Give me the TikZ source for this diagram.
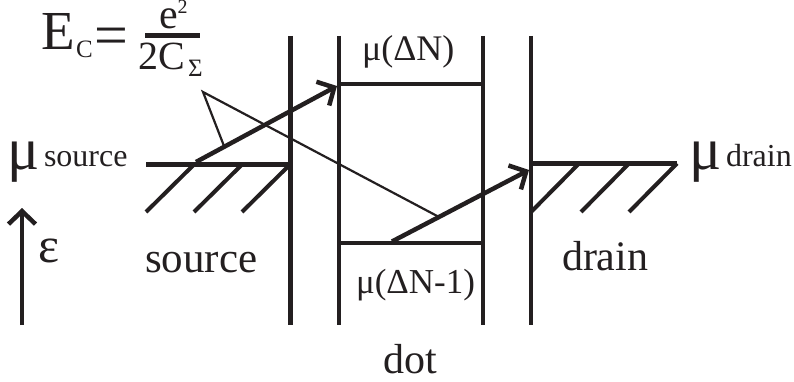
\documentclass[tikz,border=0pt]{standalone}
\usepackage{fontspec}
\setmainfont{Liberation Serif}
\usetikzlibrary{arrows.meta}
\definecolor{ink}{HTML}{231F20}
\newcommand{\fsz}[1]{\fontsize{#1}{#1}\selectfont}
\tikzset{
  x=1pt,y=-1pt,
  heavy/.style={draw=ink,line width=4.5pt},
  hatch/.style={draw=ink,line width=4pt},
  thinline/.style={draw=ink,line width=2.2pt},
  barb/.style={draw=ink,line width=4.5pt,-{Straight Barb[length=13pt,width=27pt,line width=4.5pt]}},
  txt/.style={anchor=base west,inner sep=0pt,outer sep=0pt,text=ink},
}
\begin{document}
\begin{tikzpicture}
\useasboundingbox (0,0) rectangle (794,382);
% walls
\foreach \n/\x in {wa/290.5,wb/339,wc/483,wd/531}{
  \coordinate (\n t) at (\x,36);
  \coordinate (\n b) at (\x,325);
  \draw[heavy] (\n t) -- (\n b);
}
% dot levels
\coordinate (la) at (339,84); \coordinate (lb) at (483,84);
\coordinate (lc) at (339,243); \coordinate (ld) at (483,243);
\draw[heavy] (la) -- (lb);
\draw[heavy] (lc) -- (ld);
% source and drain levels
\coordinate (sa) at (146,164.5); \coordinate (sb) at (290,164.5);
\coordinate (da) at (531,163.5); \coordinate (db) at (677,163.5);
\draw[heavy] (sa) -- (sb);
\draw[heavy] (da) -- (db);
% hatching
\foreach \a/\b/\c in {146/194/164.5,194/242/164.5,242/290/164.5,531/579/163.5,581/629/163.5,629/677/163.5}{
  \draw[hatch] (\a,212) -- (\b,\c);
}
% arrows
\coordinate (pa) at (196,162); \coordinate (pb) at (337,86);
\coordinate (qa) at (392,241.5); \coordinate (qb) at (529,170);
\draw[barb] (pa) -- (pb);
\draw[barb] (qa) -- (qb);
\coordinate (ea) at (22,325); \coordinate (eb) at (22,208);
\draw[barb] (ea) -- (eb);
% thin leader
\coordinate (apex) at (203,92);
\coordinate (ta) at (224,146); \coordinate (tb) at (439,217);
\draw[thinline,line join=miter] (ta) -- (apex) -- (tb);
% fraction bar
\coordinate (fa) at (145,35.5); \coordinate (fb) at (200,35.5);
\draw[draw=ink,line width=4.5pt] (fa) -- (fb);
% text
\node[txt] (ec) at (41,50) {\fsz{55}E};
\node[txt] (ecs) at (76,58) {\fsz{25}C};
\node[txt] (eq) at (94,56) {\fsz{60}=};
\node[txt] (nume) at (159,29) {\fsz{42}e};
\node[txt] (nums) at (177.5,14) {\fsz{20}2};
\node[txt] (den) at (138,70) {\fsz{40}2C};
\node[txt] (dens) at (188,77) {\fsz{25}Σ};
\node[txt] (mus) at (7,170) {\fsz{60}μ};
\node[txt] (smalls) at (44,167) {\fsz{32}source};
\node[txt] (mud) at (689,170) {\fsz{60}μ};
\node[txt] (smalld) at (726,167) {\fsz{32}drain};
\node[txt] (eps) at (38,262) {\fsz{50}ε};
\node[txt] (src) at (145,272) {\fsz{43}source};
\node[txt] (drn) at (562,270) {\fsz{42}drain};
\node[txt] (mutop) at (362,61) {\fsz{36}μ(ΔN)};
\node[txt] (mubot) at (356,293) {\fsz{35}μ(ΔN-1)};
\node[txt] (dot) at (383,373) {\fsz{42}dot};
\end{tikzpicture}
\end{document}
